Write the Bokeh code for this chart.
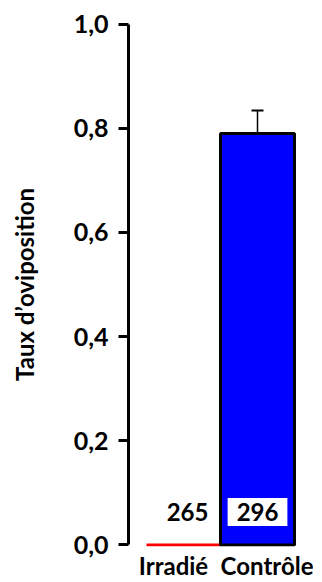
from bokeh.plotting import figure
from bokeh.models import (FactorRange, Range1d, ColumnDataSource, Whisker, FixedTicker,
                          CategoricalAxis)
from bokeh.core.properties import value
from bokeh.embed import file_html
from bokeh.resources import INLINE

categories = ["Irradié", "Contrôle"]
rates = [0.0, 0.79]
errors = [0.0, 0.044]
counts = ["265", "296"]
bar_lines = ["#ff0000", "#000000"]
bar_fills = ["#ffffff", "#0000ff"]
y_ticks = [0.0, 0.2, 0.4, 0.6, 0.8, 1.0]
y_tick_labels = {0.0: "0,0", 0.2: "0,2", 0.4: "0,4", 0.6: "0,6", 0.8: "0,8", 1.0: "1,0"}

FONT = "Lato"

p = figure(width=313, height=582, output_backend="svg", toolbar_location=None,
           x_axis_location=None,
           x_range=FactorRange(*categories, range_padding=0.243, range_padding_units="absolute",
                               factor_padding=0),
           y_range=Range1d(-0.003, 1.003))
p.extra_x_ranges = {"lab": FactorRange(*categories, range_padding=0.074,
                                       range_padding_units="absolute", factor_padding=0.2)}
p.min_border_left = 128
p.min_border_right = 1
p.min_border_top = 22
p.min_border_bottom = 35
p.outline_line_color = None
p.grid.visible = False
p.background_fill_color = "white"

src = ColumnDataSource(dict(cat=categories, top=rates,
                            line=bar_lines, fill=bar_fills, fill_alpha=[0.0, 1.0]))

p.vbar(x="cat", top="top", bottom=0, width=1.0, source=src,
       fill_color="fill", fill_alpha="fill_alpha", line_color="line", line_width=3)

wsrc = ColumnDataSource(dict(cat=categories[1:], upper=[rates[1] + errors[1]],
                             lower=[rates[1] - errors[1]]))
w = Whisker(base="cat", upper="upper", lower="lower", source=wsrc,
            line_color="black", line_width=1.5)
w.upper_head.size = 12
w.lower_head.size = 12
w.upper_head.line_width = 2
w.lower_head.line_width = 1.5
p.add_layout(w)

# count labels
p.text(x=[(categories[0], 0.055)], y=[0.063], text=[counts[0]],
       text_font=value(FONT), text_font_style="bold", text_font_size="24px",
       text_align="center", text_baseline="middle", text_color="black")
p.text(x=[(categories[1], 0.0)], y=[0.063], text=[counts[1]],
       text_font=value(FONT), text_font_style="bold", text_font_size="24px",
       text_align="center", text_baseline="middle", text_color="black",
       background_fill_color="white", background_fill_alpha=1.0,
       padding=dict(left=9, right=9, top=5, bottom=5), border_line_color=None)

# y axis
ya = p.yaxis[0]
ya.ticker = FixedTicker(ticks=y_ticks)
ya.major_label_overrides = y_tick_labels
ya.bounds = (0, 1)
ya.axis_line_width = 3
ya.major_tick_line_width = 3
ya.major_tick_out = 10
ya.major_tick_in = 0
ya.minor_tick_line_color = None
ya.minor_tick_out = 0
ya.major_label_standoff = 10
ya.major_label_text_font = FONT
ya.major_label_text_font_style = "bold"
ya.major_label_text_font_size = "25px"
ya.major_label_text_color = "black"
ya.axis_label = "Taux d’oviposition"
ya.axis_label_text_font = FONT
ya.axis_label_text_font_style = "bold"
ya.axis_label_text_font_size = "24px"
ya.axis_label_text_color = "black"
ya.axis_label_standoff = 32

xa = CategoricalAxis(x_range_name="lab")
xa.axis_line_color = None
xa.major_tick_line_color = None
xa.minor_tick_line_color = None
xa.major_tick_out = 0
xa.major_tick_in = 0
xa.minor_tick_out = 0
xa.minor_tick_in = 0
xa.major_label_standoff = 4
xa.major_label_text_font = FONT
xa.major_label_text_font_style = "bold"
xa.major_label_text_font_size = "24px"
xa.major_label_text_color = "black"
p.add_layout(xa, "below")

open("out.html", "w").write(file_html(p, INLINE))
